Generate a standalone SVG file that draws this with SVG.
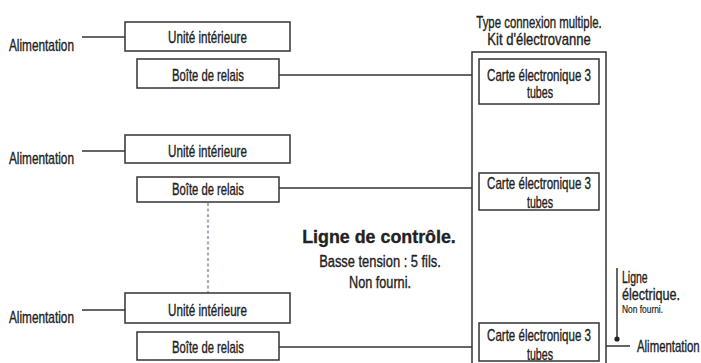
<svg xmlns="http://www.w3.org/2000/svg" width="701" height="363" viewBox="0 0 701 363">
<style>
text{font-family:"Liberation Sans",Arial,sans-serif;font-size:16px;fill:#222;stroke:#222;stroke-width:0.35;}
.c{text-anchor:middle;}
.box{fill:#fff;stroke:#333;stroke-width:1.5;}
.ln{stroke:#333;stroke-width:1.5;fill:none;}
.dot{stroke:#a7afb8;stroke-width:2.2;stroke-dasharray:3 2.5;fill:none;}
.b{font-weight:bold;font-size:19px;}
.s{font-size:10.5px;stroke-width:0.2;}
</style>
<g id="connectors">
<line class="ln" x1="82" y1="37" x2="125" y2="37"/>
<line class="ln" x1="82" y1="151" x2="125" y2="151"/>
<line class="ln" x1="82" y1="310" x2="125" y2="310"/>
<line class="ln" x1="279" y1="75" x2="472" y2="75"/>
<line class="ln" x1="279" y1="188" x2="472" y2="188"/>
<line class="ln" x1="279" y1="347" x2="472" y2="347"/>
<line class="dot" x1="208" y1="203" x2="208" y2="293"/>
<line class="dot" x1="539" y1="211" x2="539" y2="323"/>
<line class="ln" x1="606" y1="346" x2="630" y2="346"/>
<line class="ln" x1="617" y1="268" x2="617" y2="339"/>
<circle cx="617" cy="339" r="2.6" fill="#222"/>
</g>
<g id="kit">
<rect class="box" x="472" y="52" width="134" height="330"/>
<text class="c" transform="translate(539,28) scale(0.7125,1)">Type connexion multiple.</text>
<text class="c" transform="translate(539,45) scale(0.816,1)">Kit d'électrovanne</text>
</g>
<g id="alim1"><text transform="translate(9,51) scale(0.739,1)">Alimentation</text></g>
<g id="alim2"><text transform="translate(9,164) scale(0.739,1)">Alimentation</text></g>
<g id="alim3"><text transform="translate(9,323) scale(0.739,1)">Alimentation</text></g>
<g id="ui1"><rect class="box" x="125" y="22" width="165" height="29"/><text class="c" transform="translate(207.5,42.5) scale(0.728,1)">Unité intérieure</text></g>
<g id="ui2"><rect class="box" x="125" y="135" width="165" height="28"/><text class="c" transform="translate(207.5,156.5) scale(0.728,1)">Unité intérieure</text></g>
<g id="ui3"><rect class="box" x="125" y="293" width="165" height="30"/><text class="c" transform="translate(207.5,315.5) scale(0.728,1)">Unité intérieure</text></g>
<g id="br1"><rect class="box" x="137" y="59" width="142" height="29"/><text class="c" transform="translate(208,80.5) scale(0.704,1)">Boîte de relais</text></g>
<g id="br2"><rect class="box" x="137" y="177" width="142" height="25"/><text class="c" transform="translate(208,194.5) scale(0.704,1)">Boîte de relais</text></g>
<g id="br3"><rect class="box" x="137" y="332" width="142" height="28"/><text class="c" transform="translate(208,352.5) scale(0.704,1)">Boîte de relais</text></g>
<g id="carte1"><rect class="box" x="479" y="59" width="120" height="45"/><text class="c" transform="translate(539,81) scale(0.722,1)">Carte électronique 3</text><text class="c" transform="translate(540,98) scale(0.666,1)">tubes</text></g>
<g id="carte2"><rect class="box" x="479" y="173" width="120" height="37"/><text class="c" transform="translate(539,189) scale(0.722,1)">Carte électronique 3</text><text class="c" transform="translate(540,208) scale(0.666,1)">tubes</text></g>
<g id="carte3"><rect class="box" x="479" y="323" width="120" height="38"/><text class="c" transform="translate(539,341) scale(0.722,1)">Carte électronique 3</text><text class="c" transform="translate(540,360) scale(0.666,1)">tubes</text></g>
<g id="controle">
<text class="c b" transform="translate(379,243) scale(0.94,1)">Ligne de contrôle.</text>
<text class="c" transform="translate(380,267) scale(0.806,1)">Basse tension : 5 fils.</text>
<text class="c" transform="translate(380,288) scale(0.792,1)">Non fourni.</text>
</g>
<g id="ligne-elec">
<text transform="translate(622,283) scale(0.656,1)">Ligne</text>
<text transform="translate(622,300) scale(0.7875,1)">électrique.</text>
<text class="s" transform="translate(622,313) scale(0.8,1)">Non fourni.</text>
</g>
<g id="alim4"><text transform="translate(637,352) scale(0.7125,1)">Alimentation</text></g>
</svg>
